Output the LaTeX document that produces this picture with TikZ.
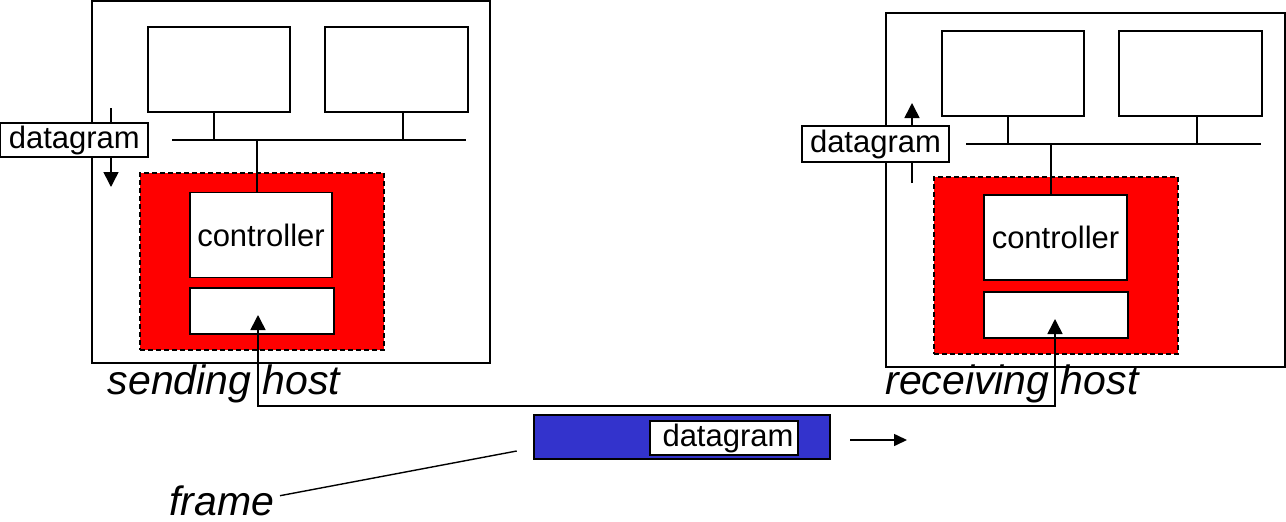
\documentclass[tikz,border=0pt]{standalone}
\usepackage{fontspec}
\setmainfont{Liberation Sans}
\usetikzlibrary{arrows.meta}

\begin{document}
\begin{tikzpicture}[x=1pt,y=-1pt,
  hostbox/.style={draw, line width=1.6pt, inner sep=0pt},
  devbox/.style={draw, fill=white, line width=1.6pt, inner sep=0pt, font=\fontsize{31}{36}\selectfont},
  nicbox/.style={draw, dash pattern=on 5pt off 3pt, fill=red, line width=1.2pt, inner sep=0pt},
  tagbox/.style={draw, fill=white, line width=1.4pt, inner sep=0pt, font=\fontsize{31}{36}\selectfont},
  hostname/.style={font=\fontsize{41}{48}\selectfont\itshape, inner sep=0pt},
  bus/.style={line width=1.4pt},
  flow/.style={line width=1.6pt, -{Triangle[length=15pt,width=15pt]}},
  link/.style={line width=1.6pt, {Triangle[length=15pt,width=15pt]}-{Triangle[length=15pt,width=15pt]}}]

\useasboundingbox (0,0) rectangle (1286,522);

% sending host
\node [hostbox, minimum width=398, minimum height=362] (shost) at (291,182) {};
\node [devbox, minimum width=142, minimum height=85] (sdevA) at (219,69.5) {};
\node [devbox, minimum width=143, minimum height=85] (sdevB) at (396.5,69.5) {};
\coordinate (sbusL) at (172,140);
\coordinate (sbusR) at (466,140);
\draw [bus] (sbusL) -- (sbusR);
\draw [bus] ([xshift=-5pt]sdevA.south) -- ([xshift=-5pt]sdevA.south |- sbusL);
\draw [bus] ([xshift=6.5pt]sdevB.south) -- ([xshift=6.5pt]sdevB.south |- sbusL);
\node [nicbox, minimum width=244, minimum height=177] (snic) at (262,261.5) {};
\node [devbox, minimum width=142, minimum height=85] (sctrl) at (261,235) {controller};
\node [devbox, minimum width=144, minimum height=46] (slow) at (262,311) {};
\draw [bus] ([xshift=-4pt]sctrl.north) -- ([xshift=-4pt]sctrl.north |- sbusL);
\coordinate (sdown) at (111,108);
\coordinate (sdownend) at (111,187);
\draw [flow] (sdown) -- (sdownend);
\node [tagbox, minimum width=147, minimum height=34] (stag) at (74.3,140) {datagram};
\node [hostname] (sname) at (224,384) {sending host};

% receiving host
\node [hostbox, minimum width=399, minimum height=354] (rhost) at (1085.5,190) {};
\node [devbox, minimum width=142, minimum height=85] (rdevA) at (1013,73.5) {};
\node [devbox, minimum width=143, minimum height=85] (rdevB) at (1190.5,73.5) {};
\coordinate (rbusL) at (966,144);
\coordinate (rbusR) at (1261,144);
\draw [bus] (rbusL) -- (rbusR);
\draw [bus] ([xshift=-5pt]rdevA.south) -- ([xshift=-5pt]rdevA.south |- rbusL);
\draw [bus] ([xshift=6.5pt]rdevB.south) -- ([xshift=6.5pt]rdevB.south |- rbusL);
\node [nicbox, minimum width=244, minimum height=177] (rnic) at (1056,265.5) {};
\node [devbox, minimum width=143, minimum height=85] (rctrl) at (1055.5,237.5) {controller};
\node [devbox, minimum width=144, minimum height=46] (rlow) at (1056,315) {};
\draw [bus] ([xshift=-4.5pt]rctrl.north) -- ([xshift=-4.5pt]rctrl.north |- rbusL);
\coordinate (rup) at (912,183);
\coordinate (rupend) at (912,103);
\draw [flow] (rup) -- (rupend);
\node [tagbox, minimum width=147, minimum height=36] (rtag) at (875.5,144) {datagram};
\node [hostname] (rname) at (1012,384) {receiving host};

% link between the adapters
\coordinate (sin) at (258,315);
\coordinate (rin) at (1055,319);
\coordinate (wire) at (0,406);
\draw [link] (sin) -- (sin |- wire) -| (rin);

% frame on the link
\node [draw, fill={rgb,255:red,51;green,51;blue,204}, line width=1.4pt, inner sep=0pt,
       minimum width=296, minimum height=44] (frame) at (682,437) {};
\node [tagbox, minimum width=148, minimum height=34] (ftag) at (724,438) {\hspace{8pt}datagram};
\coordinate (fgo) at (850,440);
\coordinate (fgoend) at (907,440);
\draw [line width=1.6pt, -{Triangle[length=13pt,width=12pt]}] (fgo) -- (fgoend);
\node [hostname] (fname) at (222,501) {frame};
\coordinate (fpoint) at (516.7,451);
\coordinate (fpointend) at (280,495.7);
\draw [line width=1.4pt] (fpoint) -- (fpointend);

\end{tikzpicture}
\end{document}
